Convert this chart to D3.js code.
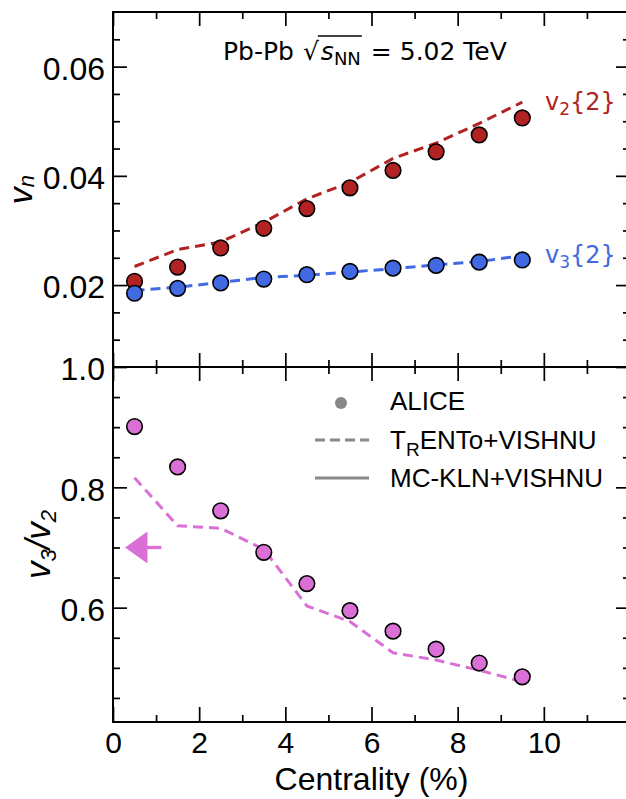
<!DOCTYPE html>
<html><head><meta charset="utf-8">
<script src="https://cdn.jsdelivr.net/npm/d3@7"></script>
<style>body{margin:0;background:#fff} text{white-space:pre}</style>
</head><body>
<svg id="c" width="626" height="799" xmlns="http://www.w3.org/2000/svg"></svg>
<script>
// ---------- data ----------
const centrality = [0.5, 1.5, 2.5, 3.5, 4.5, 5.5, 6.5, 7.5, 8.5, 9.5];
const v2Alice  = [0.0207, 0.0233, 0.0268, 0.0304, 0.0340, 0.0378, 0.0410, 0.0444, 0.0475, 0.0506];
const v3Alice  = [0.0185, 0.0194, 0.0204, 0.0211, 0.0219, 0.0225, 0.0231, 0.0236, 0.0242, 0.0246];
const v2Trento = [0.0234, 0.0265, 0.0279, 0.0315, 0.0358, 0.0388, 0.0432, 0.0460, 0.0496, 0.0535];
const v3Trento = [0.0190, 0.0196, 0.0205, 0.0214, 0.0218, 0.0224, 0.0230, 0.0237, 0.0243, 0.0254];
const ratioAlice  = [0.901, 0.834, 0.761, 0.692, 0.640, 0.595, 0.561, 0.531, 0.508, 0.485];
const ratioTrento = [0.816, 0.736, 0.732, 0.697, 0.603, 0.577, 0.525, 0.513, 0.496, 0.477];
const arrowRatio = 0.7;           // arrow marker value (v3/v2)
const arrowX = [0.28, 0.8, 1.12];  // tip, head base, tail (centrality)

const xMajorTicks = [0, 2, 4, 6, 8, 10];
const xMinorTicks = [1, 3, 5, 7, 9, 11];
const xTickLabels = ["0", "2", "4", "6", "8", "10"];
const yTopMajorTicks = [0.02, 0.04, 0.06];
const yTopTickLabels = ["0.02", "0.04", "0.06"];
const yTopMinorTicks = [0.01, 0.015, 0.025, 0.03, 0.035, 0.045, 0.05, 0.055, 0.065];
const yBotMajorTicks = [0.6, 0.8, 1.0];
const yBotTickLabels = ["0.6", "0.8", "1.0"];
const yBotMinorTicks = [0.45, 0.5, 0.55, 0.65, 0.7, 0.75, 0.85, 0.9, 0.95];

const legendLabels = ["ALICE", "TRENTo+VISHNU", "MC-KLN+VISHNU"];

// ---------- layout ----------
const RED = "#B22222", BLUE = "#4169E1", PINK = "#DA70D6", GRAY = "#888888";
const L = 113, R = 630, T = 12, MID = 367, B = 722;
const svg = d3.select("#c");
const x = d3.scaleLinear().domain([0, 12]).range([L, R]);
const yTop = d3.scaleLinear().domain([0.005, 0.07]).range([MID, T]);
const yBot = d3.scaleLinear().domain([0.41, 1.0]).range([B, MID]);

const SANS = "'Liberation Sans', Arial, Helvetica, sans-serif";
const DEJA = "'DejaVu Sans', sans-serif";

function styleAxis(g, fs) {
  g.select(".domain").remove();
  g.selectAll(".tick line").attr("stroke", "#000").attr("stroke-width", 1.7);
  g.selectAll(".tick text").attr("fill", "#000").style("font-family", SANS).style("font-size", fs + "px");
}
function axis(gen, tr, fs) {
  const g = svg.append("g").attr("transform", tr).call(gen);
  styleAxis(g, fs || 32);
  return g;
}
const none = () => "";

// ---- top panel axes ----
axis(d3.axisLeft(yTop).tickValues(yTopMajorTicks).tickSize(-14).tickPadding(8)
  .tickFormat((d, i) => yTopTickLabels[i]), `translate(${L},0)`).selectAll(".tick text").attr("dy", "0.40em");
axis(d3.axisLeft(yTop).tickValues(yTopMinorTicks).tickSize(-7).tickFormat(none), `translate(${L},0)`);
axis(d3.axisRight(yTop).tickValues(yTopMajorTicks).tickSize(-14).tickFormat(none), `translate(${R},0)`);
axis(d3.axisRight(yTop).tickValues(yTopMinorTicks).tickSize(-7).tickFormat(none), `translate(${R},0)`);
axis(d3.axisTop(x).tickValues(xMajorTicks).tickSize(-14).tickFormat(none), `translate(0,${T})`);
axis(d3.axisTop(x).tickValues(xMinorTicks).tickSize(-7).tickFormat(none), `translate(0,${T})`);
axis(d3.axisBottom(x).tickValues(xMajorTicks).tickSize(-14).tickFormat(none), `translate(0,${MID})`);
axis(d3.axisBottom(x).tickValues(xMinorTicks).tickSize(-7).tickFormat(none), `translate(0,${MID})`);

// ---- bottom panel axes ----
axis(d3.axisLeft(yBot).tickValues(yBotMajorTicks).tickSize(-14).tickPadding(8)
  .tickFormat((d, i) => yBotTickLabels[i]), `translate(${L},0)`).selectAll(".tick text").attr("dy", "0.40em");
axis(d3.axisLeft(yBot).tickValues(yBotMinorTicks).tickSize(-7).tickFormat(none), `translate(${L},0)`);
axis(d3.axisRight(yBot).tickValues(yBotMajorTicks).tickSize(-14).tickFormat(none), `translate(${R},0)`);
axis(d3.axisRight(yBot).tickValues(yBotMinorTicks).tickSize(-7).tickFormat(none), `translate(${R},0)`);
axis(d3.axisTop(x).tickValues(xMajorTicks).tickSize(-14).tickFormat(none), `translate(0,${MID})`);
axis(d3.axisTop(x).tickValues(xMinorTicks).tickSize(-7).tickFormat(none), `translate(0,${MID})`);
axis(d3.axisBottom(x).tickValues(xMajorTicks).tickSize(-15).tickPadding(10)
  .tickFormat((d, i) => xTickLabels[i]), `translate(0,${B})`, 30);
axis(d3.axisBottom(x).tickValues(xMinorTicks).tickSize(-7).tickFormat(none), `translate(0,${B})`);

// frames
[[T, MID], [MID, B]].forEach(([a, b]) => {
  svg.append("rect").attr("x", L).attr("y", a).attr("width", R - L).attr("height", b - a)
    .attr("fill", "none").attr("stroke", "#000").attr("stroke-width", 2);
});

// ---------- marks ----------
function dashed(vals, ys, color) {
  const line = d3.line().x((d, i) => x(centrality[i])).y(d => ys(d));
  svg.append("path").attr("d", line(vals)).attr("fill", "none").attr("stroke", color)
    .attr("stroke-width", 3).attr("stroke-dasharray", "10,6");
}
function dots(vals, ys, color) {
  svg.append("g").selectAll("circle").data(vals).join("circle")
    .attr("cx", (d, i) => x(centrality[i])).attr("cy", d => ys(d)).attr("r", 7.8)
    .attr("fill", color).attr("stroke", "#000").attr("stroke-width", 1.6);
}
dashed(v2Trento, yTop, RED);
dashed(v3Trento, yTop, BLUE);
dots(v2Alice, yTop, RED);
dots(v3Alice, yTop, BLUE);
dashed(ratioTrento, yBot, PINK);
dots(ratioAlice, yBot, PINK);

// arrow
const ay = yBot(arrowRatio);
svg.append("line").attr("x1", x(arrowX[1]) - 2).attr("x2", x(arrowX[2])).attr("y1", ay).attr("y2", ay)
  .attr("stroke", PINK).attr("stroke-width", 3.3);
svg.append("path").attr("d", `M${x(arrowX[0])},${ay} L${x(arrowX[1])},${ay - 16} L${x(arrowX[1])},${ay + 16} Z`)
  .attr("fill", PINK);

// ---------- series labels ----------
function seriesLabel(sub, color, yb) {
  const t = svg.append("text").attr("x", 545).attr("y", yb).attr("fill", color)
    .style("font-family", DEJA).style("font-size", "24px");
  t.append("tspan").text("v");
  t.append("tspan").attr("dy", 5).style("font-size", "17px").text(sub);
  t.append("tspan").attr("dy", -5).text("{2}");
}
seriesLabel("2", RED, 110);
seriesLabel("3", BLUE, 263);

// ---------- title ----------
(function () {
  const yb = 60;
  let cx = 223;
  function piece(txt, opts) {
    const t = svg.append("text").attr("x", cx).attr("y", yb + (opts.dy || 0))
      .attr("xml:space", "preserve")
      .style("font-family", DEJA).style("font-size", (opts.fs || 25) + "px")
      .style("font-style", opts.it ? "italic" : "normal").attr("fill", "#000").text(txt);
    const w = t.node().getComputedTextLength();
    const x0 = cx; cx += w; return [x0, cx];
  }
  piece("Pb-Pb", {});
  cx += 9;
  const sq = piece("\u221A", {});
  cx += 2;
  const s = piece("s", { it: true });
  const nn = piece("NN", { fs: 18, dy: 5 });
  cx += 10;
  piece("= 5.02 TeV", {});
  svg.append("line").attr("x1", sq[1] - 1).attr("x2", nn[1] + 1).attr("y1", yb - 24).attr("y2", yb - 24)
    .attr("stroke", "#000").attr("stroke-width", 1.5);
})();

// ---------- axis titles ----------
(function () {
  const t = svg.append("text").attr("transform", `translate(32,${(T + MID) / 2}) rotate(-90)`)
    .attr("text-anchor", "middle").style("font-family", SANS).style("font-style", "italic")
    .style("font-size", "34px").attr("fill", "#000");
  t.append("tspan").text("v");
  t.append("tspan").attr("dy", 2).style("font-size", "22px").text("n");
  const t2 = svg.append("text").attr("transform", `translate(50,${(MID + B) / 2}) rotate(-90)`)
    .attr("text-anchor", "middle").style("font-family", SANS).style("font-style", "italic")
    .style("font-size", "35px").attr("fill", "#000");
  t2.append("tspan").text("v");
  t2.append("tspan").attr("dy", 6).style("font-size", "22px").text("3");
  t2.append("tspan").attr("dy", -6).text("/v");
  t2.append("tspan").attr("dy", 6).style("font-size", "22px").text("2");
  svg.append("text").attr("x", (L + R) / 2).attr("y", 790).attr("text-anchor", "middle")
    .style("font-family", SANS).style("font-size", "32px").attr("fill", "#000").text("Centrality (%)");
})();

// ---------- legend ----------
(function () {
  const lx = 390;
  const rows = [403, 440, 478];
  svg.append("circle").attr("cx", 341).attr("cy", rows[0]).attr("r", 6).attr("fill", GRAY);
  svg.append("line").attr("x1", 315).attr("x2", 369).attr("y1", rows[1]).attr("y2", rows[1])
    .attr("stroke", GRAY).attr("stroke-width", 3).attr("stroke-dasharray", "10,5");
  svg.append("line").attr("x1", 315).attr("x2", 369).attr("y1", rows[2]).attr("y2", rows[2])
    .attr("stroke", GRAY).attr("stroke-width", 3);
  const mk = (yb) => svg.append("text").attr("x", lx).attr("y", yb).style("font-family", SANS)
    .style("font-size", "26px").attr("fill", "#000");
  mk(410).text(legendLabels[0]);
  const t = mk(449);
  t.append("tspan").text("T");
  t.append("tspan").attr("dy", 7).style("font-size", "19px").text("R");
  t.append("tspan").attr("dy", -7).text(legendLabels[1].slice(2));
  mk(487).text(legendLabels[2]);
})();
</script></body></html>
